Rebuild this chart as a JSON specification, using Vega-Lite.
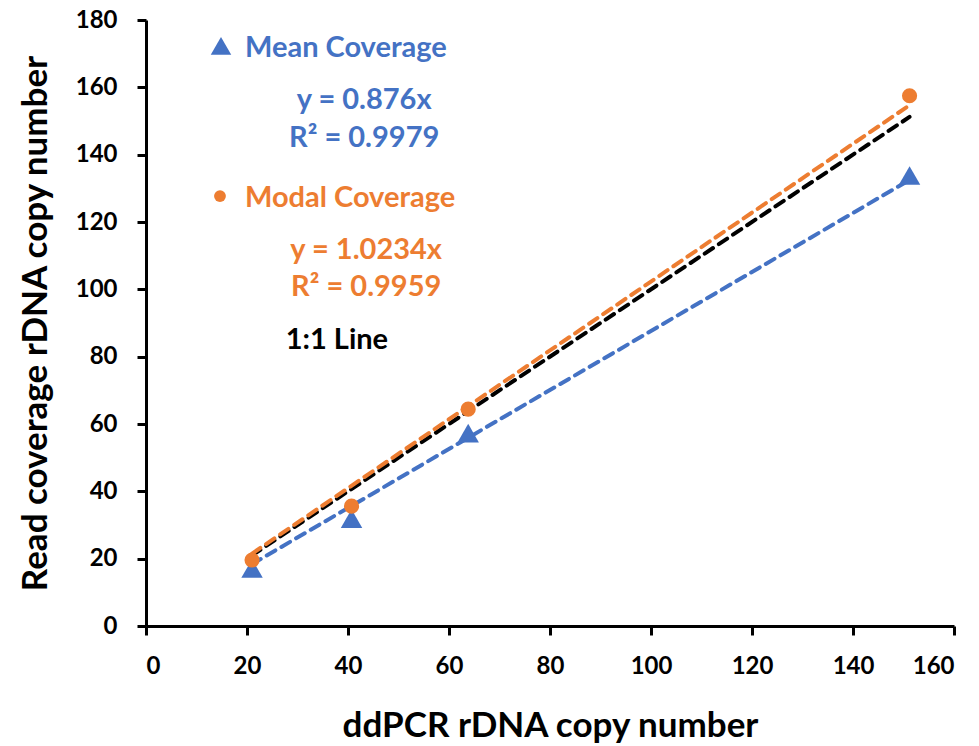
{
  "$schema": "https://vega.github.io/schema/vega-lite/v6.json",
  "width": 808,
  "height": 606,
  "autosize": {"type": "none"},
  "padding": {"left": 146, "top": 20, "right": 25, "bottom": 120},
  "background": "white",
  "config": {
    "view": {"stroke": null},
    "font": "Lato",
    "axis": {
      "grid": false,
      "domainColor": "#000000",
      "domainWidth": 3,
      "tickColor": "#000000",
      "tickWidth": 3,
      "tickSize": 9,
      "labelFont": "Lato",
      "labelFontWeight": "bold",
      "labelFontSize": 24,
      "labelColor": "#000000",
      "titleFont": "Lato",
      "titleFontWeight": "bold",
      "titleFontSize": 35,
      "titleColor": "#000000"
    }
  },
  "datasets": {
    "pts": [
      {"series": "Mean Coverage", "x": 21.0, "y": 17.1},
      {"series": "Mean Coverage", "x": 40.7, "y": 31.9},
      {"series": "Mean Coverage", "x": 63.8, "y": 57.3},
      {"series": "Mean Coverage", "x": 151.2, "y": 133.8},
      {"series": "Modal Coverage", "x": 21.0, "y": 19.6},
      {"series": "Modal Coverage", "x": 40.7, "y": 35.6},
      {"series": "Modal Coverage", "x": 63.8, "y": 64.4},
      {"series": "Modal Coverage", "x": 151.2, "y": 157.5}
    ],
    "fits": [
      {"series": "1:1 Line", "x": 21.0, "y": 21.0},
      {"series": "1:1 Line", "x": 151.2, "y": 151.2},
      {"series": "Mean Coverage", "x": 21.0, "y": 18.4},
      {"series": "Mean Coverage", "x": 151.2, "y": 132.5},
      {"series": "Modal Coverage", "x": 21.0, "y": 21.5},
      {"series": "Modal Coverage", "x": 151.2, "y": 154.7}
    ],
    "keys": [
      {"series": "Mean Coverage", "x": 14.85, "y": 172.3},
      {"series": "Modal Coverage", "x": 14.65, "y": 127.7}
    ],
    "names": [
      {"series": "Mean Coverage", "label": "Mean Coverage", "x": 19.6, "y": 171.7},
      {"series": "Modal Coverage", "label": "Modal Coverage", "x": 19.6, "y": 127.1}
    ],
    "eqs": [
      {"series": "Mean Coverage", "label": "y = 0.876x", "x": 43.2, "y": 156.2},
      {"series": "Mean Coverage", "label": "R² = 0.9979", "x": 43.2, "y": 144.9},
      {"series": "Modal Coverage", "label": "y = 1.0234x", "x": 43.6, "y": 111.7},
      {"series": "Modal Coverage", "label": "R² = 0.9959", "x": 43.6, "y": 100.7},
      {"series": "1:1 Line", "label": "1:1 Line", "x": 37.8, "y": 84.9}
    ]
  },
  "encoding": {
    "x": {
      "field": "x", "type": "quantitative",
      "scale": {"domain": [0, 160], "nice": false, "zero": false},
      "axis": {"values": [0, 20, 40, 60, 80, 100, 120, 140, 160], "labelPadding": 19, "titlePadding": 30, "title": "ddPCR rDNA copy number"}
    },
    "y": {
      "field": "y", "type": "quantitative",
      "scale": {"domain": [0, 180], "nice": false, "zero": false},
      "axis": {"values": [0, 20, 40, 60, 80, 100, 120, 140, 160, 180], "labelPadding": 20, "titlePadding": 22, "title": "Read coverage rDNA copy number"}
    },
    "color": {
      "field": "series", "type": "nominal",
      "scale": {"domain": ["Mean Coverage", "Modal Coverage", "1:1 Line"], "range": ["#4472C4", "#ED7D31", "#000000"]},
      "legend": null
    }
  },
  "layer": [
    {
      "data": {"name": "fits"},
      "transform": [{"filter": "datum.series === '1:1 Line'"}],
      "mark": {"type": "line", "strokeWidth": 4, "strokeDash": [10, 7], "strokeCap": "round"}
    },
    {
      "data": {"name": "fits"},
      "transform": [{"filter": "datum.series === 'Mean Coverage'"}],
      "mark": {"type": "line", "strokeWidth": 4, "strokeDash": [10, 7], "strokeCap": "round"}
    },
    {
      "data": {"name": "fits"},
      "transform": [{"filter": "datum.series === 'Modal Coverage'"}],
      "mark": {"type": "line", "strokeWidth": 4, "strokeDash": [10, 7], "strokeCap": "round"}
    },
    {
      "data": {"name": "pts"},
      "transform": [{"filter": "datum.series === 'Mean Coverage'"}],
      "mark": {"type": "point", "shape": "triangle-up", "filled": true, "opacity": 1, "size": 460}
    },
    {
      "data": {"name": "pts"},
      "transform": [{"filter": "datum.series === 'Modal Coverage'"}],
      "mark": {"type": "point", "shape": "circle", "filled": true, "opacity": 1, "size": 230}
    },
    {
      "data": {"name": "keys"},
      "transform": [{"filter": "datum.series === 'Mean Coverage'"}],
      "mark": {"type": "point", "shape": "triangle-up", "filled": true, "opacity": 1, "size": 420}
    },
    {
      "data": {"name": "keys"},
      "transform": [{"filter": "datum.series === 'Modal Coverage'"}],
      "mark": {"type": "point", "shape": "circle", "filled": true, "opacity": 1, "size": 140}
    },
    {
      "data": {"name": "names"},
      "mark": {"type": "text", "align": "left", "baseline": "middle", "fontSize": 29, "fontWeight": "bold", "font": "Lato"},
      "encoding": {"text": {"field": "label"}}
    },
    {
      "data": {"name": "eqs"},
      "mark": {"type": "text", "align": "center", "baseline": "middle", "fontSize": 29, "fontWeight": "bold", "font": "Lato"},
      "encoding": {"text": {"field": "label"}}
    }
  ]
}
